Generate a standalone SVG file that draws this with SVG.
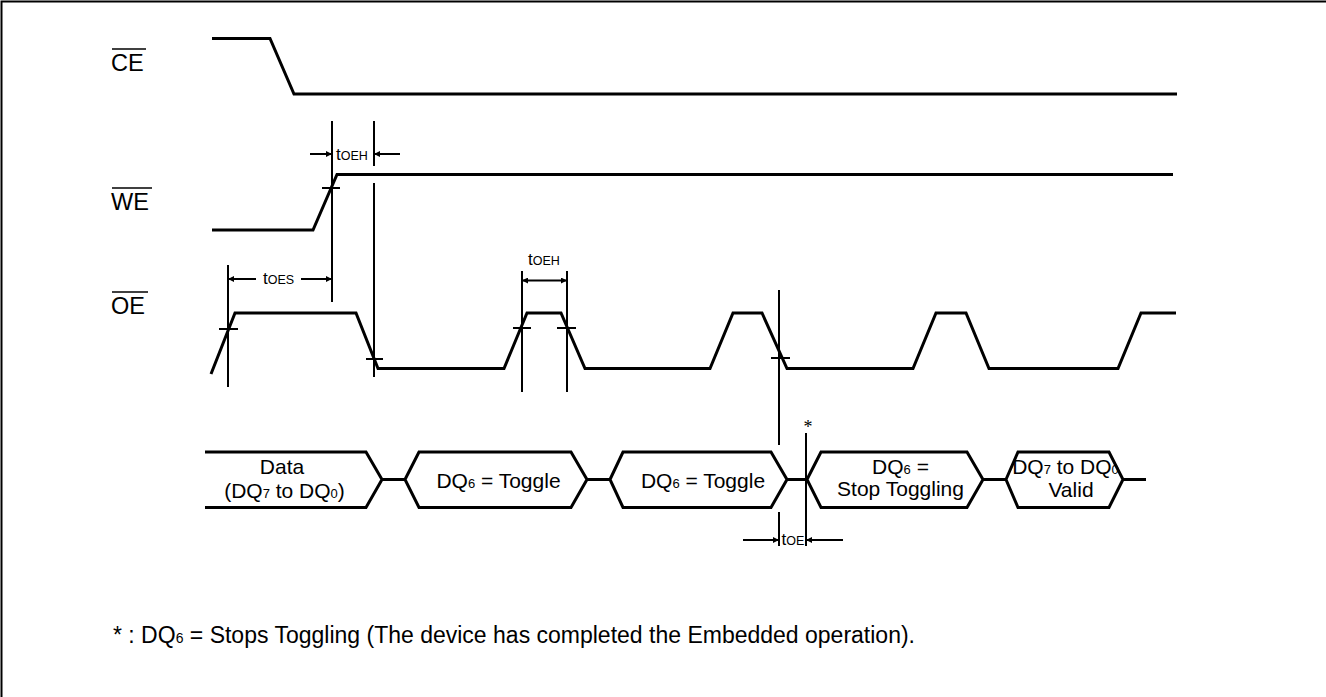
<svg xmlns="http://www.w3.org/2000/svg" width="1326" height="697" viewBox="0 0 1326 697">
<style>
.w{fill:none;stroke:#000;stroke-width:3;stroke-linejoin:miter;stroke-linecap:butt}
.t{fill:none;stroke:#000;stroke-width:2}
.a{fill:none;stroke:#000;stroke-width:2;marker-end:url(#ah)}
.ol{stroke:#000;stroke-width:1.6}
text{font-family:"Liberation Sans",Arial,Helvetica,sans-serif;fill:#000}
.lb{font-size:23.5px}
.tx{font-size:21px}
.fn{font-size:23px}
.s{font-size:13px}
.s2{font-size:14px}
.tm{font-size:17px}
.ts{font-size:12.5px}
.ast{font-family:"Liberation Serif","Times New Roman",serif;font-size:18px}
</style>
<defs>
<marker id="ah" viewBox="0 0 10 10" refX="10" refY="5" markerWidth="10" markerHeight="6" markerUnits="userSpaceOnUse" orient="auto">
<path d="M0,0 L10,5 L0,10 Z" fill="#000"/>
</marker>
</defs>
<rect width="1326" height="697" fill="#fff"/>
<path d="M1.5,697 V1.5 H1326" class="t"/>

<g id="label-ce">
<line class="ol" x1="112" y1="49" x2="146" y2="49"/>
<text class="lb" x="111" y="71">CE</text>
</g>
<g id="label-we">
<line class="ol" x1="112" y1="188" x2="152" y2="188"/>
<text class="lb" x="111" y="210">WE</text>
</g>
<g id="label-oe">
<line class="ol" x1="112" y1="292" x2="148" y2="292"/>
<text class="lb" x="111" y="314">OE</text>
</g>

<g id="wave-ce">
<path class="w" d="M212,38.5 H270 L294,94 H1177"/>
</g>
<g id="wave-we">
<path class="w" d="M212,230 H313 L337,174.5 H1173"/>
</g>
<g id="wave-oe">
<path class="w" d="M211,374 L235,313 H356 L378,368.5 H504 L527,313 H561 L585,368.5 H710 L733,313 H762 L787,368.5 H913 L936,313 H966 L989,368.5 H1118 L1141,313 H1176"/>
</g>

<g id="bus">
<g id="bus-data">
<path class="w" d="M205,452 H366 L382,479.5 L366,507.5 H205"/>
<text class="tx" x="282" y="474" text-anchor="middle">Data</text>
<text class="tx" x="284.5" y="497.5" text-anchor="middle">(DQ<tspan class="s">7</tspan> to DQ<tspan class="s">0</tspan>)</text>
</g>
<g id="bus-toggle1">
<path class="w" d="M405,479.5 L419,452 H571 L587,479.5 L571,507.5 H419 Z"/>
<text class="tx" x="498.5" y="487.5" text-anchor="middle">DQ<tspan class="s">6</tspan> = Toggle</text>
</g>
<g id="bus-toggle2">
<path class="w" d="M610,479.5 L623,452 H771 L787,479.5 L771,507.5 H623 Z"/>
<text class="tx" x="703" y="487.5" text-anchor="middle">DQ<tspan class="s">6</tspan> = Toggle</text>
</g>
<g id="bus-stop">
<path class="w" d="M807,479.5 L821,452 H967 L983,479.5 L967,507.5 H821 Z"/>
<text class="tx" x="900.5" y="474" text-anchor="middle">DQ<tspan class="s">6</tspan> =</text>
<text class="tx" x="900.5" y="495.5" text-anchor="middle">Stop Toggling</text>
</g>
<g id="bus-valid">
<path class="w" d="M1006,479.5 L1018,452 H1109 L1123,479.5 L1109,507.5 H1018 Z"/>
<text class="tx" x="1065.5" y="474" text-anchor="middle">DQ<tspan class="s">7</tspan> to DQ<tspan class="s">0</tspan></text>
<text class="tx" x="1071" y="497" text-anchor="middle">Valid</text>
</g>
</g>

<g id="connectors">
<path class="w" d="M382,479.5 H405 M587,479.5 H610 M787,479.5 H807 M983,479.5 H1006 M1123,479.5 H1146"/>
<path class="t" d="M332,121 V302 M374,121 V166 M374,183 V377 M228,265 V387 M522,271 V392 M567,271 V392 M779,290 V445 M779,512 V546 M806,433 V546"/>
<path class="t" d="M322,188 H340 M219,329 H238 M366,359 H383 M513,328 H531 M557,328 H576 M771,358 H790"/>
<line class="a" x1="310" y1="154" x2="332" y2="154"/>
<line class="a" x1="400" y1="154" x2="374" y2="154"/>
<line class="a" x1="256" y1="279" x2="228" y2="279"/>
<line class="a" x1="301" y1="279" x2="332" y2="279"/>
<line class="a" x1="545" y1="280.5" x2="522" y2="280.5"/>
<line class="a" x1="545" y1="280.5" x2="567" y2="280.5"/>
<line class="a" x1="743" y1="540" x2="779" y2="540"/>
<line class="a" x1="843" y1="540" x2="806" y2="540"/>
</g>

<g id="timing-labels">
<text x="336" y="159.5"><tspan class="tm">t</tspan><tspan class="ts">OEH</tspan></text>
<text x="263" y="284"><tspan class="tm">t</tspan><tspan class="ts">OES</tspan></text>
<text x="528" y="265"><tspan class="tm">t</tspan><tspan class="ts">OEH</tspan></text>
<text x="781.5" y="545"><tspan class="tm">t</tspan><tspan class="ts">OE</tspan></text>
<text class="ast" x="808" y="433" text-anchor="middle">*</text>
</g>

<g id="footnote">
<text class="fn" x="113" y="643">* : DQ<tspan class="s2">6</tspan> = Stops Toggling (The device has completed the Embedded operation).</text>
</g>
</svg>
